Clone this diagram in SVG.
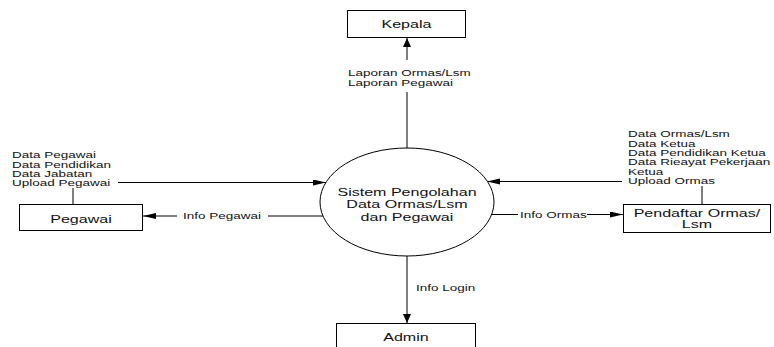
<svg xmlns="http://www.w3.org/2000/svg" width="774" height="347" viewBox="0 0 774 347">
  <style>
    .box { fill: #fff; stroke: #000; stroke-width: 1; }
    .ln { fill: none; stroke: #000; stroke-width: 1; }
    text { font-family: "Liberation Sans", Arial, sans-serif; fill: #111; transform-box: fill-box; }
    .nd { font-size: 11px; text-anchor: middle; transform-origin: 50% 50%; transform: scaleX(1.46); }
    .lb { font-size: 9.5px; transform-origin: 0 50%; transform: scaleX(1.42); }
  </style>
  <defs>
    <!-- horizontal arrowhead (wide) -->
    <marker id="ah" markerUnits="userSpaceOnUse" markerWidth="14" markerHeight="8" refX="13" refY="3" orient="auto">
      <path d="M0,0 L13,3 L0,6 Z" fill="#000"/>
    </marker>
    <!-- vertical arrowhead -->
    <marker id="av" markerUnits="userSpaceOnUse" markerWidth="10" markerHeight="9" refX="9" refY="4" orient="auto">
      <path d="M0,0 L9,4 L0,8 Z" fill="#000"/>
    </marker>
  </defs>

  <g id="connectors">
    <!-- process to Kepala -->
    <line class="ln" x1="407" y1="148" x2="407" y2="92"/>
    <line class="ln" x1="407" y1="60" x2="407" y2="38" marker-end="url(#av)"/>
    <text class="lb" x="348" y="76.5">Laporan Ormas/Lsm</text>
    <text class="lb" x="348" y="86.5">Laporan Pegawai</text>

    <!-- Pegawai to process -->
    <line class="ln" x1="73" y1="204" x2="73" y2="188"/>
    <line class="ln" x1="118" y1="182.5" x2="326" y2="182.5" marker-end="url(#ah)"/>
    <text class="lb" x="12" y="158.5">Data Pegawai</text>
    <text class="lb" x="12" y="167.8">Data Pendidikan</text>
    <text class="lb" x="12" y="177">Data Jabatan</text>
    <text class="lb" x="12" y="186.2">Upload Pegawai</text>

    <!-- process to Pegawai -->
    <line class="ln" x1="323" y1="216" x2="268" y2="216"/>
    <line class="ln" x1="177" y1="216" x2="143" y2="216" marker-end="url(#ah)"/>
    <text class="lb" x="183" y="219.5">Info Pegawai</text>

    <!-- Pendaftar to process -->
    <line class="ln" x1="702" y1="204" x2="702" y2="186"/>
    <line class="ln" x1="622" y1="181.5" x2="487" y2="181.5" marker-end="url(#ah)"/>
    <text class="lb" x="628" y="137.5">Data Ormas/Lsm</text>
    <text class="lb" x="628" y="146.8">Data Ketua</text>
    <text class="lb" x="628" y="156.1">Data Pendidikan Ketua</text>
    <text class="lb" x="628" y="165.4">Data Rieayat Pekerjaan</text>
    <text class="lb" x="628" y="174.7">Ketua</text>
    <text class="lb" x="628" y="184.5">Upload Ormas</text>

    <!-- process to Pendaftar -->
    <line class="ln" x1="492" y1="214.5" x2="518" y2="214.5"/>
    <line class="ln" x1="587" y1="214.5" x2="623" y2="214.5" marker-end="url(#ah)"/>
    <text class="lb" x="520" y="218">Info Ormas</text>

    <!-- process to Admin -->
    <line class="ln" x1="407" y1="256" x2="407" y2="323" marker-end="url(#av)"/>
    <text class="lb" x="416" y="291.5">Info Login</text>
  </g>

  <g id="kepala">
    <rect class="box" x="347.5" y="10.5" width="118" height="27"/>
    <text class="nd" x="406.5" y="28">Kepala</text>
  </g>

  <g id="pegawai">
    <rect class="box" x="19.5" y="204.5" width="123" height="26"/>
    <text class="nd" x="81" y="223">Pegawai</text>
  </g>

  <g id="pendaftar">
    <rect class="box" x="623.5" y="204.5" width="147" height="28"/>
    <text class="nd" x="697" y="217">Pendaftar Ormas/</text>
    <text class="nd" x="697" y="228.5">Lsm</text>
  </g>

  <g id="admin">
    <rect class="box" x="336.5" y="323.5" width="139" height="30"/>
    <text class="nd" x="406" y="341">Admin</text>
  </g>

  <g id="process">
    <ellipse cx="407" cy="202" rx="87" ry="54" fill="#fff" stroke="#000" stroke-width="1"/>
    <text class="nd" x="407" y="196">Sistem Pengolahan</text>
    <text class="nd" x="407" y="208.5">Data Ormas/Lsm</text>
    <text class="nd" x="407" y="221">dan Pegawai</text>
  </g>
</svg>
